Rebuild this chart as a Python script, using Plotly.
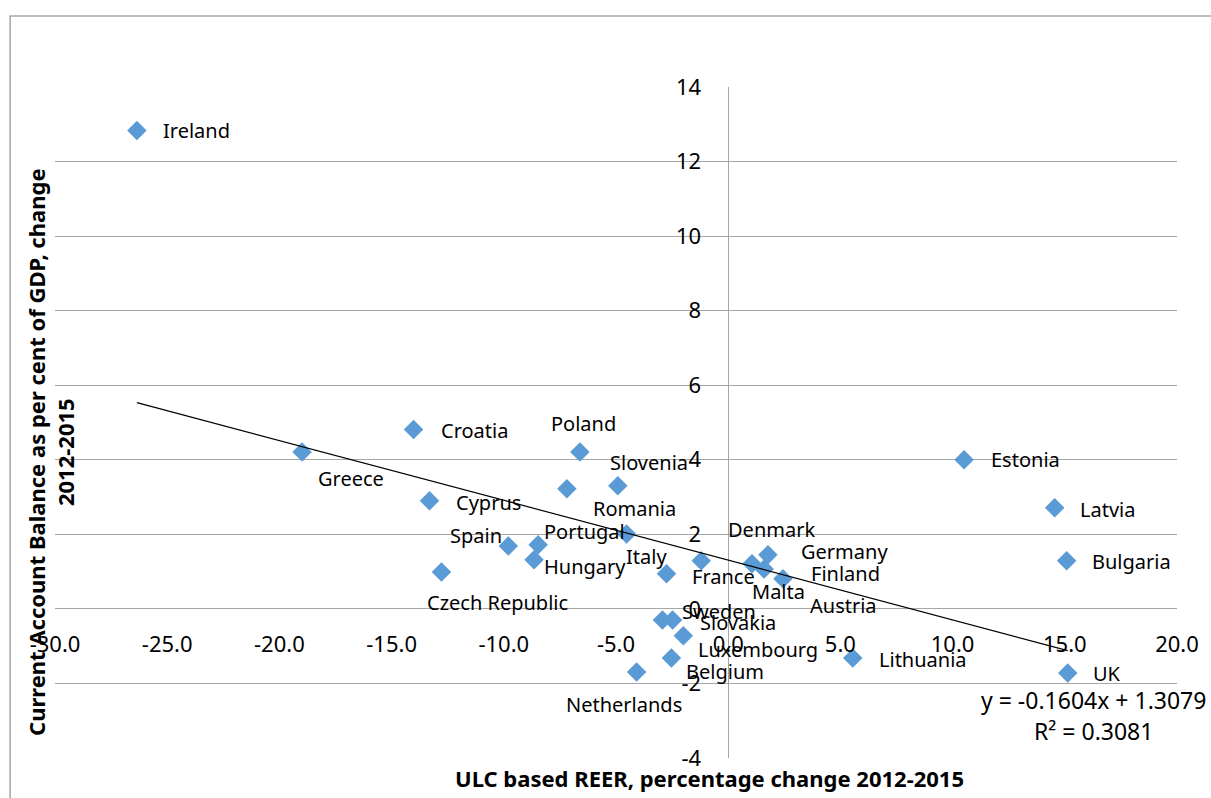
import plotly.graph_objects as go

# ---- data ----
countries = ["Ireland", "Greece", "Croatia", "Cyprus", "Czech Republic", "Spain",
             "Portugal", "Hungary", "Poland", "Romania", "Slovenia", "Italy",
             "France", "Denmark", "Finland", "Germany", "Malta", "Austria",
             "Estonia", "Latvia", "Bulgaria", "Lithuania", "UK", "Sweden",
             "Slovakia", "Luxembourg", "Belgium", "Netherlands"]
reer_change = [-26.35, -18.99, -14.02, -13.31, -12.78, -9.80,
               -8.47, -8.65, -6.61, -7.19, -4.92, -4.53,
               -2.75, -1.20, 1.06, 1.77, 1.60, 2.44,
               10.51, 14.55, 15.08, 5.55, 15.13, -2.93,
               -2.48, -2.00, -2.53, -4.08]
ca_change = [12.83, 4.21, 4.81, 2.90, 0.99, 1.69,
             1.72, 1.32, 4.21, 3.22, 3.30, 2.01,
             0.94, 1.29, 1.21, 1.45, 1.07, 0.81,
             4.00, 2.71, 1.29, -1.32, -1.72, -0.30,
             -0.30, -0.72, -1.32, -1.69]
trend_slope = -0.1604
trend_intercept = 1.3079
r_squared = 0.3081
x_ticks = [-30, -25, -20, -15, -10, -5, 0, 5, 10, 15, 20]
y_ticks = [-4, -2, 0, 2, 4, 6, 8, 10, 12, 14]
x_tick_text = [f"{v:.1f}" for v in x_ticks]
y_tick_text = [f"{v}" for v in y_ticks]

# ---- label placement (pixel offsets of each label centre from its point) ----
label_offsets = {
    "Ireland": (60, 0), "Greece": (49, 27), "Croatia": (61, 1), "Cyprus": (59, 2),
    "Czech Republic": (56, 31), "Spain": (-32, -10), "Portugal": (46, -13),
    "Hungary": (51, 7), "Poland": (4, -28), "Romania": (68, 20), "Slovenia": (31, -23),
    "Italy": (20, 23), "France": (57, 3), "Denmark": (70, -31), "Finland": (94, 10),
    "Germany": (77, -3), "Malta": (14, 22), "Austria": (61, 27), "Estonia": (61, 0),
    "Latvia": (53, 2), "Bulgaria": (65, 1), "Lithuania": (70, 1), "UK": (39, 0),
    "Sweden": (57, -9), "Slovakia": (65, 2), "Luxembourg": (75, 14),
    "Belgium": (54, 13), "Netherlands": (-13, 33),
}

FONT = "Noto Sans"
GRID = "#A6A6A6"

fig = go.Figure()

fig.add_trace(go.Scatter(
    x=reer_change, y=ca_change, mode="markers",
    marker=dict(symbol="diamond", size=15, color="#5B9BD5"),
    hoverinfo="skip", showlegend=False, cliponaxis=False,
))

x_min, x_max = min(reer_change), max(reer_change)
fig.add_trace(go.Scatter(
    x=[x_min, x_max],
    y=[trend_slope * x_min + trend_intercept, trend_slope * x_max + trend_intercept],
    mode="lines", line=dict(color="black", width=1.2),
    hoverinfo="skip", showlegend=False,
))

annotations = []
for name, xv, yv in zip(countries, reer_change, ca_change):
    dx, dy = label_offsets[name]
    annotations.append(dict(
        x=xv, y=yv, xref="x", yref="y", text=name, showarrow=False,
        xanchor="center", yanchor="middle", xshift=dx, yshift=-dy,
        font=dict(family=FONT, size=20, color="black"),
    ))

annotations.append(dict(
    x=0.9255, y=0.0864, xref="paper", yref="paper", showarrow=False,
    text=f"y = {trend_slope:.4f}x + {trend_intercept:.4f}",
    xanchor="center", yanchor="middle",
    font=dict(family=FONT, size=23, color="black"),
))
annotations.append(dict(
    x=0.9255, y=0.0402, xref="paper", yref="paper", showarrow=False,
    text=f"R² = {r_squared:.4f}",
    xanchor="center", yanchor="middle",
    font=dict(family=FONT, size=23, color="black"),
))
annotations.append(dict(
    x=-0.0045, y=0.456, xref="paper", yref="paper", showarrow=False,
    text="<b>Current Account Balance as per cent of GDP, change</b><br><b>2012-2015</b>",
    textangle=-90, xanchor="center", yanchor="middle",
    font=dict(family=FONT, size=22, color="black"),
))
annotations.append(dict(
    x=0.583, y=-0.0298, xref="paper", yref="paper", showarrow=False,
    text="<b>ULC based REER, percentage change 2012-2015</b>",
    xanchor="center", yanchor="middle",
    font=dict(family=FONT, size=22, color="black"),
))

fig.update_layout(
    width=1211, height=798,
    margin=dict(l=55, r=30, t=87, b=40),
    paper_bgcolor="white", plot_bgcolor="white",
    showlegend=False,
    annotations=annotations,
    font=dict(family=FONT, color="black"),
    shapes=[dict(
        type="rect", xref="paper", yref="paper",
        x0=-0.0400, x1=1.1, y0=-0.2, y1=1.1058,
        line=dict(color="#A6A6A6", width=1.5), fillcolor="rgba(0,0,0,0)", layer="below",
    )],
    xaxis=dict(
        range=[-30, 20], tickvals=x_ticks, ticktext=x_tick_text,
        showgrid=False, zeroline=True, zerolinecolor=GRID, zerolinewidth=1,
        showline=False, ticks="", anchor="free", position=4 / 18,
        tickfont=dict(family=FONT, size=22, color="black"),
        ticklabelstandoff=20,
    ),
    yaxis=dict(
        range=[-4, 14], tickvals=y_ticks, ticktext=y_tick_text,
        showgrid=True, gridcolor=GRID, gridwidth=1, zeroline=False,
        showline=False, ticks="", anchor="free", position=30 / 50,
        tickfont=dict(family=FONT, size=22, color="black"),
        ticklabelstandoff=27,
    ),
)

fig.write_html(
    "out.html",
    config={"displayModeBar": False},
    post_script="document.body.style.margin='0';document.body.style.overflow='hidden';",
)
